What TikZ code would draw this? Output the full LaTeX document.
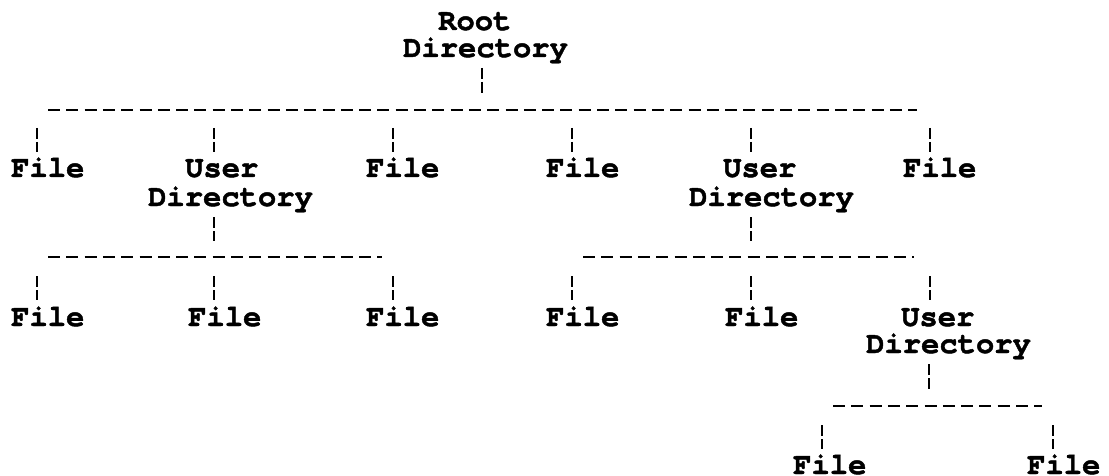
\documentclass[tikz,border=0pt]{standalone}
\usepackage{fontspec}
\setmonofont{texgyrecursor}[Extension=.otf, UprightFont=*-regular,
  BoldFont=*-bold, BoldFeatures={FakeBold=1.5}]
\tikzset{
  lbl/.style={font=\ttfamily\bfseries\fontsize{30.5}{28}\selectfont,
              inner sep=0pt, anchor=base west,
              text height=18pt, text depth=5pt},
  bus/.style={line width=2.8pt, dash pattern=on 12pt off 6.3pt},
  stub/.style={line width=2.5pt, dash pattern=on 11pt off 3pt},
}
\begin{document}
\begin{tikzpicture}[x=1pt,y=-1pt]
\useasboundingbox (0,0) rectangle (1109,476);

% root
\node[lbl] (root)  at (438,30) {Root};
\node[lbl] (rootd) at (403,57) {Directory};

% first level
\node[lbl] (f1)  at (11,177)  {File};
\node[lbl] (u1)  at (185,177) {User};
\node[lbl] (u1d) at (148,206) {Directory};
\node[lbl] (f2)  at (366,177) {File};
\node[lbl] (f3)  at (546,177) {File};
\node[lbl] (u2)  at (723,177) {User};
\node[lbl] (u2d) at (689,206) {Directory};
\node[lbl] (f4)  at (903,177) {File};

% second level
\node[lbl] (f5)  at (11,326)  {File};
\node[lbl] (f6)  at (188,326) {File};
\node[lbl] (f7)  at (366,326) {File};
\node[lbl] (f8)  at (546,326) {File};
\node[lbl] (f9)  at (725,326) {File};
\node[lbl] (u3)  at (901,326) {User};
\node[lbl] (u3d) at (866,353) {Directory};

% third level
\node[lbl] (f10) at (793,474)  {File};
\node[lbl] (f11) at (1027,474) {File};

% bus lines
\coordinate (b1w) at (48,110);  \coordinate (b1e) at (917,110);
\coordinate (b2w) at (48,257);  \coordinate (b2e) at (382,257);
\coordinate (b3w) at (583,257); \coordinate (b3e) at (914,257);
\coordinate (b4w) at (833,406); \coordinate (b4e) at (1042,406);
\draw[bus] (b1w) -- (b1e);
\draw[bus] (b2w) -- (b2e);
\draw[bus] (b3w) -- (b3e);
\draw[bus] (b4w) -- (b4e);

% stubs from parents down to their bus
\coordinate (pr) at (482,68);  \draw[stub] (pr) -- ++(0,25);
\coordinate (p1) at (214,217); \draw[stub] (p1) -- ++(0,24);
\coordinate (p2) at (751,217); \draw[stub] (p2) -- ++(0,24);
\coordinate (p3) at (929,364); \draw[stub] (p3) -- ++(0,25);

% stubs from a bus down to each child
\foreach \x/\y in {37/128, 214/128, 393/128, 572/128, 751/128, 930/128,
                   37/276, 214/276, 393/276, 572/276, 751/276, 930/276,
                   822/425, 1053/425}
  \draw[stub] (\x,\y) -- ++(0,24);
\end{tikzpicture}
\end{document}
